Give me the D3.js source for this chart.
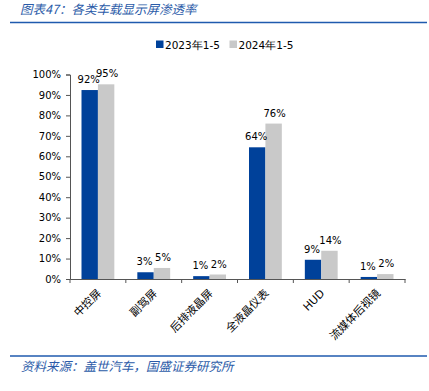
<!DOCTYPE html>
<html>
<head>
<meta charset="utf-8">
<script src="https://cdn.jsdelivr.net/npm/d3@7"></script>
<style>
  body { margin: 0; background: #fff; }
  svg { display: block; }
</style>
</head>
<body>
<svg id="chart" width="429" height="391"></svg>
<script>
// Chart data
const categories = ['中控屏', '副驾屏', '后排液晶屏', '全液晶仪表', 'HUD', '流媒体后视镜'];
const seriesNames = ['2023年1-5', '2024年1-5'];
const values2023 = [92.4, 3.3, 1.4, 64.4, 9.4, 1.0];
const values2024 = [95.2, 5.4, 2.2, 76.0, 13.8, 2.4];
const yTicks = [0, 10, 20, 30, 40, 50, 60, 70, 80, 90, 100];
const colors = ['#00419A', '#C9C9C9'];

const svg = d3.select('#chart');
const plotLeft = 70, plotRight = 405, plotTop = 74.5, plotBottom = 279;
const cjk = '"Noto Sans CJK SC", sans-serif';

// title and rules
svg.append('text')
  .attr('x', 20).attr('y', 14)
  .attr('font-family', cjk).attr('font-size', 12.5)
  .attr('font-style', 'italic').attr('fill', '#2B5BA8')
  .text('图表47：各类车载显示屏渗透率');
svg.append('line')
  .attr('x1', 10).attr('x2', 427).attr('y1', 22.5).attr('y2', 22.5)
  .attr('stroke', '#1F5AAE').attr('stroke-width', 1.5);
svg.append('line')
  .attr('x1', 10).attr('x2', 427).attr('y1', 356).attr('y2', 356)
  .attr('stroke', '#1F5AAE').attr('stroke-width', 1.5);
svg.append('text')
  .attr('x', 21).attr('y', 371)
  .attr('font-family', cjk).attr('font-size', 12.5)
  .attr('font-style', 'italic').attr('fill', '#2B5BA8')
  .text('资料来源：盖世汽车，国盛证券研究所');

// scales
const x0 = d3.scaleBand().domain(categories).range([plotLeft, plotRight]).paddingInner(0).paddingOuter(0);
const x1 = d3.scaleBand().domain(seriesNames).range([11.5, x0.bandwidth() - 11.5]);
const y = d3.scaleLinear().domain([0, 100]).range([plotBottom, plotTop]);

// y axis
const yAxis = svg.append('g')
  .attr('transform', `translate(${plotLeft},0)`)
  .call(d3.axisLeft(y).tickValues(yTicks).tickSize(4).tickFormat(d => d + '%'));
yAxis.selectAll('text').attr('font-family', '"DejaVu Sans", sans-serif').attr('font-size', 10).attr('fill', '#000').attr('dx', '-2');
yAxis.selectAll('line, path').attr('stroke', '#555');

// x axis
const xAxis = svg.append('g')
  .attr('transform', `translate(0,${plotBottom})`)
  .call(d3.axisBottom(x0).tickSize(0).tickFormat(''));
xAxis.select('path').attr('stroke', '#555');
svg.append('g').selectAll('line')
  .data(d3.range(categories.length + 1))
  .enter().append('line')
  .attr('x1', i => plotLeft + i * x0.step()).attr('x2', i => plotLeft + i * x0.step())
  .attr('y1', plotBottom).attr('y2', plotBottom + 4)
  .attr('stroke', '#555');

svg.append('g').selectAll('text')
  .data(categories)
  .enter().append('text')
  .attr('transform', d => `translate(${x0(d) + x0.bandwidth() / 2 + 4},${plotBottom + 15}) rotate(-45)`)
  .attr('text-anchor', 'end')
  .attr('font-family', d => d === 'HUD' ? '"DejaVu Sans", sans-serif' : cjk)
  .attr('font-size', 11)
  .attr('fill', '#000')
  .text(d => d);

// bars
const seriesData = [values2023, values2024];
const groups = svg.append('g').selectAll('g')
  .data(categories.map((c, i) => ({ c, vals: seriesNames.map((s, j) => ({ s, j, v: seriesData[j][i] })) })))
  .enter().append('g')
  .attr('transform', d => `translate(${x0(d.c)},0)`);

groups.selectAll('rect')
  .data(d => d.vals)
  .enter().append('rect')
  .attr('x', d => x1(d.s))
  .attr('width', x1.bandwidth())
  .attr('y', d => y(d.v))
  .attr('height', d => plotBottom - y(d.v))
  .attr('fill', d => colors[d.j]);

groups.selectAll('text')
  .data(d => d.vals)
  .enter().append('text')
  .attr('x', d => x1(d.s) + x1.bandwidth() / 2 + (d.j === 0 ? -1 : 1))
  .attr('y', d => y(d.v) - 7)
  .attr('text-anchor', 'middle')
  .attr('font-family', '"DejaVu Sans", sans-serif')
  .attr('font-size', 10)
  .attr('fill', '#000')
  .text(d => Math.round(d.v) + '%');

// legend
const legend = svg.append('g').selectAll('g')
  .data(seriesNames)
  .enter().append('g')
  .attr('transform', (d, i) => `translate(${156 + i * 73.5},40.5)`);
legend.append('rect').attr('width', 7.5).attr('height', 7.5).attr('fill', (d, i) => colors[i]);
legend.append('text')
  .attr('x', 9).attr('y', 8)
  .attr('font-family', '"DejaVu Sans", sans-serif')
  .attr('font-size', 10.5)
  .attr('fill', '#000')
  .text(d => d);
</script>
</body>
</html>
